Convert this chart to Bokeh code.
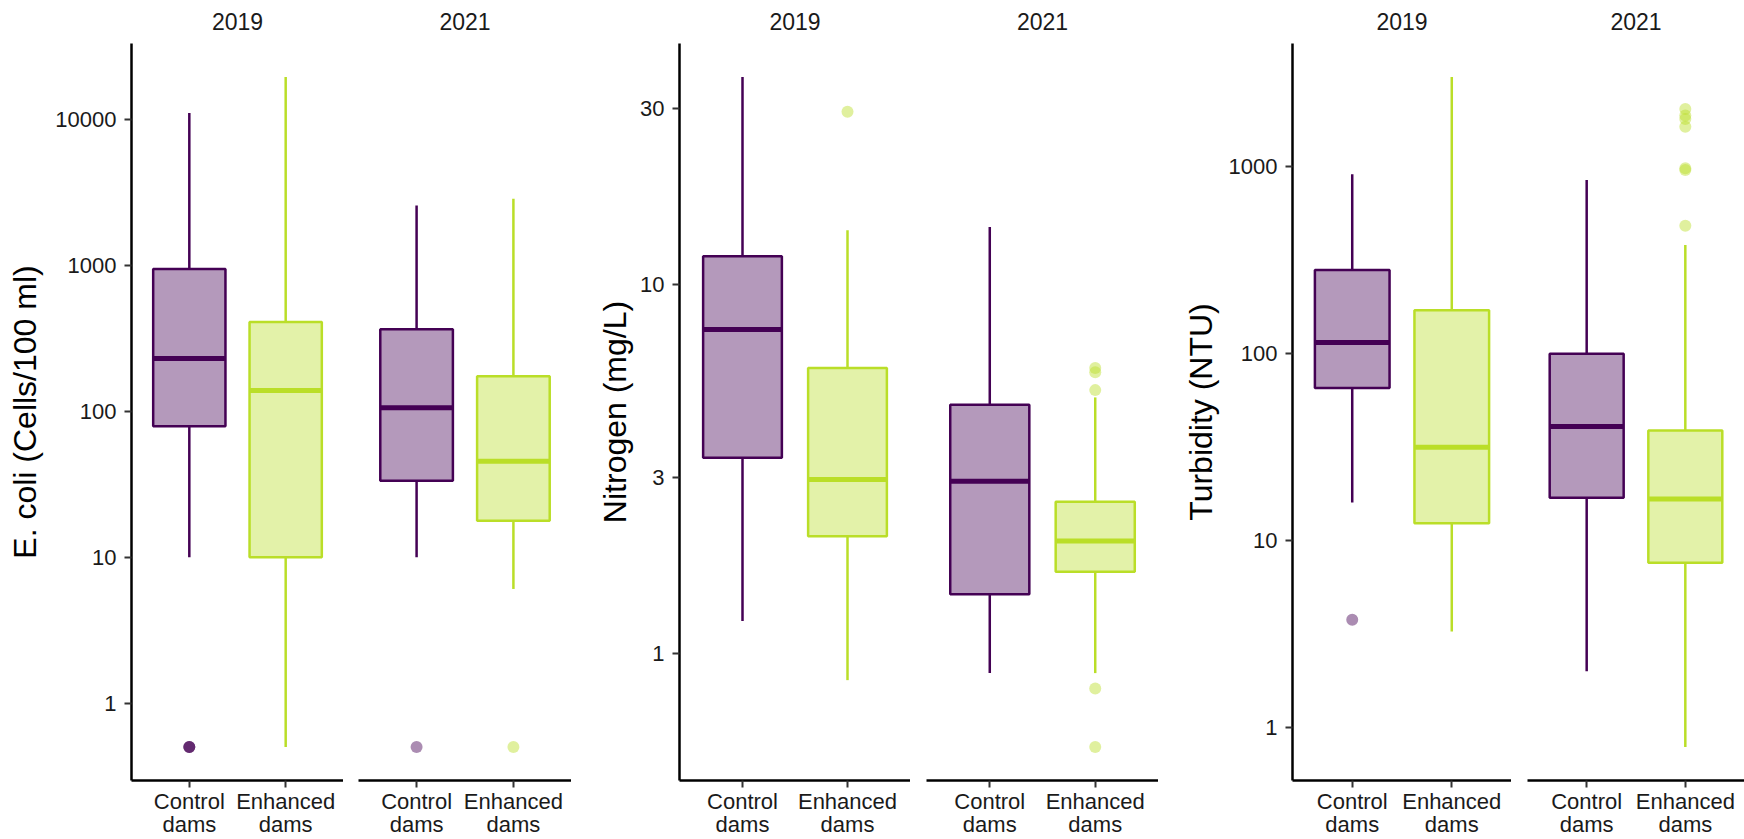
import math
from bokeh.plotting import figure
from bokeh.models import Range1d, FixedTicker, ColumnDataSource
from bokeh.layouts import row, column
from bokeh.core.properties import value
from bokeh.embed import file_html
from bokeh.resources import INLINE

# ---------------- data ----------------
years = ["2019", "2021"]
groups = ["Control\ndams", "Enhanced\ndams"]
group_colors = ["#440154", "#BADE28"]

# order of every list: 2019 Control, 2019 Enhanced, 2021 Control, 2021 Enhanced
ecoli_lower = [10, 0.5, 10, 6.06]
ecoli_q1 = [79, 10, 33.4, 17.8]
ecoli_median = [230, 139, 106, 45.5]
ecoli_q3 = [945, 410, 366, 174]
ecoli_upper = [11100, 19600, 2580, 2870]
ecoli_outliers = [[0.5, 0.5, 0.5], [], [0.5], [0.5]]
ecoli_ticks = [1, 10, 100, 1000, 10000]
ecoli_tick_labels = ["1", "10", "100", "1000", "10000"]

nitro_lower = [1.226, 0.848, 0.886, 0.886]
nitro_q1 = [3.39, 2.08, 1.449, 1.667]
nitro_median = [7.54, 2.96, 2.93, 2.02]
nitro_q3 = [11.9, 5.93, 4.72, 2.58]
nitro_upper = [36.4, 14.0, 14.3, 4.94]
nitro_outliers = [[], [29.3], [], [5.93, 5.78, 5.17, 0.805, 0.559]]
nitro_ticks = [1, 3, 10, 30]
nitro_tick_labels = ["1", "3", "10", "30"]

turb_lower = [16.0, 3.27, 2.01, 0.79]
turb_q1 = [65.5, 12.4, 17.0, 7.64]
turb_median = [114.7, 31.6, 40.8, 16.7]
turb_q3 = [280, 171, 100, 38.9]
turb_upper = [910, 3015, 849, 381]
turb_outliers = [[3.78], [], [], [2036, 1875, 1799, 1636, 980, 960, 483]]
turb_ticks = [1, 10, 100, 1000]
turb_tick_labels = ["1", "10", "100", "1000"]

panels = [
    dict(label="E. coli (Cells/100 ml)", lower=ecoli_lower, q1=ecoli_q1, median=ecoli_median,
         q3=ecoli_q3, upper=ecoli_upper, outliers=ecoli_outliers,
         ticks=ecoli_ticks, tick_labels=ecoli_tick_labels),
    dict(label="Nitrogen (mg/L)", lower=nitro_lower, q1=nitro_q1, median=nitro_median,
         q3=nitro_q3, upper=nitro_upper, outliers=nitro_outliers,
         ticks=nitro_ticks, tick_labels=nitro_tick_labels),
    dict(label="Turbidity (NTU)", lower=turb_lower, q1=turb_q1, median=turb_median,
         q3=turb_q3, upper=turb_upper, outliers=turb_outliers,
         ticks=turb_ticks, tick_labels=turb_tick_labels),
]

# ---------------- layout / style ----------------
FONT = "Liberation Sans"
TEXT_COLOR = "#1a1a1a"
STRIP_H = 43          # strip row (facet titles)
MAIN_H = 747          # plotting row: frame 737 + room for the x ticks
MAIN_BOTTOM = 10
LABEL_H = 49          # category label row
STRIP_BASELINE = 22.5
LABEL_BASELINES = [38, 15]
BOX_W = 0.75
X_START, X_END = 0.4, 2.6
# per panel: (facet1 width, facet1 left border, facet2 width, facet2 left border, axis label standoff)
layout_spec = [
    (343, 131, 228, 15, 9),
    (339, 108, 248, 16, 4),
    (353, 134, 233, 16, 7),
]

xs = [k + 1 for k in range(len(groups))]
group_lines = [g.split("\n") for g in groups]


def log_range(panel):
    vals = panel["lower"] + panel["upper"] + [v for o in panel["outliers"] for v in o]
    lo, hi = math.log10(min(vals)), math.log10(max(vals))
    pad = 0.05 * (hi - lo)
    return Range1d(10 ** (lo - pad), 10 ** (hi + pad))


def bare_fig(width, height, border_left):
    p = figure(width=width, height=height, x_range=Range1d(X_START, X_END),
               y_range=Range1d(0, height), x_axis_location=None, y_axis_location=None,
               output_backend="svg", toolbar_location=None,
               min_border_left=border_left, min_border_right=0,
               min_border_top=0, min_border_bottom=0)
    p.outline_line_color = None
    p.background_fill_color = "white"
    p.border_fill_color = "white"
    p.grid.visible = False
    return p


def strip_fig(width, border_left, year):
    p = bare_fig(width, STRIP_H, border_left)
    p.text(x=[sum(xs) / len(xs)], y=[STRIP_BASELINE], text=[year],
           text_font=value(FONT), text_font_size=value("23px"), text_color=TEXT_COLOR,
           text_align="center", text_baseline="alphabetic")
    return p


def label_fig(width, border_left):
    p = bare_fig(width, LABEL_H, border_left)
    for li, base in enumerate(LABEL_BASELINES):
        p.text(x=xs, y=[base] * len(xs), text=[ln[li] for ln in group_lines],
               text_font=value(FONT), text_font_size=value("22px"), text_color=TEXT_COLOR,
               text_align="center", text_baseline="alphabetic")
    return p


def facet(panel, yi, width, border_left, show_y, standoff, y_range):
    p = figure(width=width, height=MAIN_H, x_range=Range1d(X_START, X_END), y_range=y_range,
               y_axis_type="log", output_backend="svg", toolbar_location=None,
               min_border_left=border_left, min_border_right=0,
               min_border_top=0, min_border_bottom=MAIN_BOTTOM)
    p.background_fill_color = "white"
    p.border_fill_color = "white"
    p.outline_line_color = None
    p.grid.visible = False

    idx = [yi * 2 + g for g in range(len(groups))]
    src = ColumnDataSource(dict(
        x=xs,
        x0=[x - BOX_W / 2 for x in xs],
        x1=[x + BOX_W / 2 for x in xs],
        lower=[panel["lower"][i] for i in idx],
        q1=[panel["q1"][i] for i in idx],
        median=[panel["median"][i] for i in idx],
        q3=[panel["q3"][i] for i in idx],
        upper=[panel["upper"][i] for i in idx],
        color=group_colors,
    ))
    p.segment(x0="x", y0="q3", x1="x", y1="upper", source=src, line_color="color", line_width=2.5)
    p.segment(x0="x", y0="q1", x1="x", y1="lower", source=src, line_color="color", line_width=2.5)
    p.vbar(x="x", width=BOX_W, bottom="q1", top="q3", source=src, fill_color="color",
           fill_alpha=0.4, line_color="color", line_width=2.5)
    p.segment(x0="x0", y0="median", x1="x1", y1="median", source=src, line_color="color",
              line_width=5)

    ox, oy, oc = [], [], []
    for g, i in enumerate(idx):
        for v in panel["outliers"][i]:
            ox.append(xs[g])
            oy.append(v)
            oc.append(group_colors[g])
    if ox:
        p.scatter(x=ox, y=oy, size=12, fill_color=oc, fill_alpha=0.45, line_color=None)

    # x axis: line and ticks here; the category names sit in the row below
    xa = p.xaxis[0]
    xa.ticker = FixedTicker(ticks=xs)
    xa.minor_tick_line_color = None
    xa.major_tick_out = 7
    xa.major_tick_in = 0
    xa.major_tick_line_width = 2
    xa.major_tick_line_color = "#333333"
    xa.axis_line_width = 2.5
    xa.axis_line_color = "black"
    xa.major_label_text_font_size = "1px"
    xa.major_label_text_color = None
    xa.major_label_standoff = 0

    ya = p.yaxis[0]
    if show_y:
        ya.ticker = FixedTicker(ticks=panel["ticks"])
        ya.major_label_overrides = {v: s for v, s in zip(panel["ticks"], panel["tick_labels"])}
        ya.minor_tick_line_color = None
        ya.major_tick_out = 7
        ya.major_tick_in = 0
        ya.major_tick_line_width = 2
        ya.major_tick_line_color = "#333333"
        ya.axis_line_width = 2.5
        ya.axis_line_color = "black"
        ya.major_label_text_font = FONT
        ya.major_label_text_font_size = "22px"
        ya.major_label_text_color = TEXT_COLOR
        ya.major_label_standoff = 8
        ya.axis_label = panel["label"]
        ya.axis_label_text_font = FONT
        ya.axis_label_text_font_size = "32px"
        ya.axis_label_text_font_style = "normal"
        ya.axis_label_text_color = "black"
        ya.axis_label_standoff = standoff
    else:
        ya.visible = False
    return p


strips, mains, labels = [], [], []
for panel, (w1, bl1, w2, bl2, so) in zip(panels, layout_spec):
    yr = log_range(panel)
    for yi, (w, bl) in enumerate([(w1, bl1), (w2, bl2)]):
        strips.append(strip_fig(w, bl, years[yi]))
        mains.append(facet(panel, yi, w, bl, yi == 0, so, yr))
        labels.append(label_fig(w, bl))

layout = column(row(*strips, spacing=0), row(*mains, spacing=0), row(*labels, spacing=0),
                spacing=0)
open("out.html", "w").write(file_html(layout, INLINE, title="Water quality"))
